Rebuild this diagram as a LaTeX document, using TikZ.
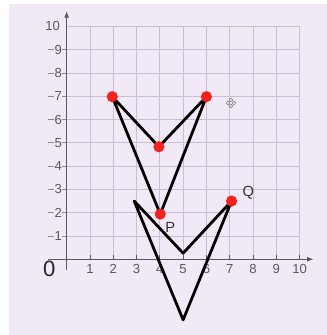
\documentclass[tikz,border=0pt]{standalone}
\usepackage{fontspec}
\setmainfont{Liberation Sans}
\usetikzlibrary{arrows.meta,positioning}
\definecolor{bgpaper}{HTML}{F2E9F6}
\definecolor{gridline}{HTML}{C9BED2}
\definecolor{axisgray}{HTML}{5A5560}
\definecolor{dotred}{HTML}{F2231C}
\begin{document}
\begin{tikzpicture}[
  >=Latex, line join=round,
  gridln/.style={gridline, line width=0.9pt},
  axis/.style={->, axisgray, line width=1.1pt},
  num/.style={text=axisgray, font=\fontsize{16}{18}\selectfont, inner sep=1pt},
  kite/.style={draw=black, line width=3.4pt},
  dot/.style={circle, fill=dotred, inner sep=0pt, minimum size=4.8mm},
  lbl/.style={font=\fontsize{18}{20}\selectfont, text=black!80, inner sep=1pt}
]
\useasboundingbox (-2.86,-3.25) rectangle (11.17,11.13);
\fill[bgpaper] (-2.48,-3.25) rectangle (11.17,10.96);
% grid
\foreach \i in {1,...,10} {
  \draw[gridln] (\i,0) -- (\i,10);
  \draw[gridln] (0,\i) -- (10,\i);
}
\foreach \i in {1,...,9}
  \draw[gridln, axisgray!70] (-0.8,\i) -- (0,\i);
% axes
\draw[axis] (-0.8,0) -- (10.6,0);
\draw[axis] (0,-0.45) -- (0,10.65);
\foreach \i in {1,...,10} {
  \draw[axisgray, line width=1pt] (\i,0) -- (\i,0.18);
  \node[num] (x\i) at (\i,-0.42) {\i};
}
\foreach \i in {1,...,9}
  \node[num, fill=bgpaper, inner sep=0.5pt] (y\i) at (-0.36,\i) {\i};
\node[num] (y10) at (-0.6,10) {10};
\node[text=black!85, font=\fontsize{27}{29}\selectfont, inner sep=0pt] (o) at (-0.75,-0.42) {0};
% first shape
\coordinate (a1) at (1.96,6.98);
\coordinate (a2) at (3.96,4.83);
\coordinate (a3) at (6.0,6.98);
\coordinate (a4) at (4.02,1.94);
\draw[kite] (a1) -- (a2) -- (a3) -- (a4) -- cycle;
\foreach \p in {a1,a2,a3,a4}
  \node[dot] at (\p) {};
% second shape
\coordinate (b1) at (2.9,2.5);
\coordinate (b2) at (5.0,0.26);
\coordinate (b3) at (7.08,2.5);
\coordinate (b4) at (5.0,-2.6);
\draw[kite] (b1) -- (b2) -- (b3) -- (b4) -- cycle;
\node[dot] (q) at (b3) {};
\node[lbl] (plbl) at (4.45,1.35) {P};
\node[lbl] (qlbl) at (7.8,2.85) {Q};
% marker
\begin{scope}[shift={(7.05,6.71)}, axisgray!80, line width=0.6pt]
  \foreach \a in {0,90,180,270}
    \draw (\a:0.13) circle (0.08);
\end{scope}
\end{tikzpicture}
\end{document}
